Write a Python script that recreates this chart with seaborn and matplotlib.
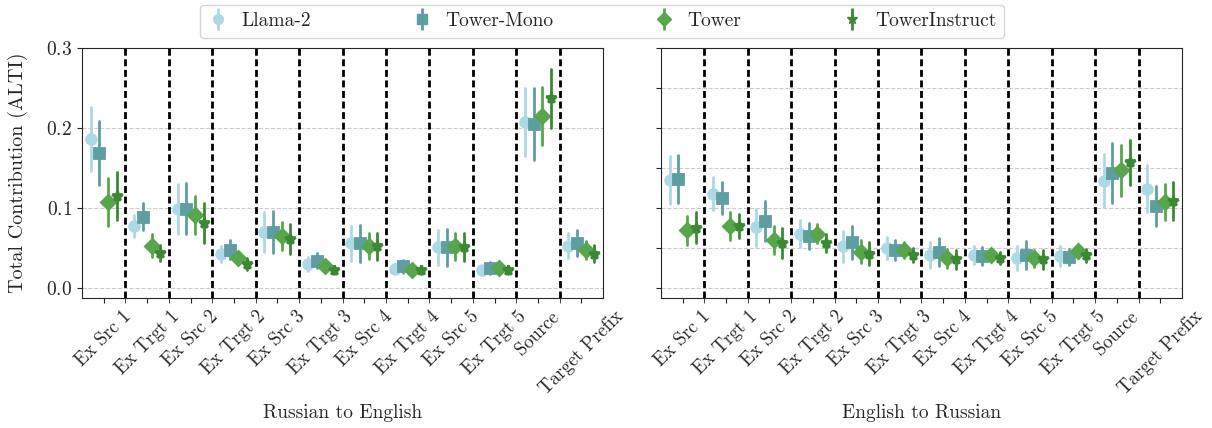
import numpy as np
import pandas as pd
import seaborn as sns
import matplotlib
matplotlib.use('Agg')
from matplotlib import pyplot as plt
from matplotlib.lines import Line2D
from matplotlib.legend_handler import HandlerTuple

sns.set_style('ticks')
plt.rcParams['font.family'] = 'serif'
plt.rcParams['font.serif'] = ['cmr10']
plt.rcParams['mathtext.fontset'] = 'cm'
plt.rcParams['axes.formatter.use_mathtext'] = True
plt.rcParams['font.size'] = 12

categories = ['Ex Src 1', 'Ex Trgt 1', 'Ex Src 2', 'Ex Trgt 2', 'Ex Src 3', 'Ex Trgt 3',
              'Ex Src 4', 'Ex Trgt 4', 'Ex Src 5', 'Ex Trgt 5', 'Source', 'Target Prefix']
models = ['Llama-2', 'Tower-Mono', 'Tower', 'TowerInstruct']
colors = ['#add8e6', '#5f9ea0', '#58a64c', '#3b8a33']
markers = ['o', 's', 'D', '*']

# Russian -> English (mean, half-width of interval)
ru_en_llama = [0.186, 0.0775, 0.099, 0.043, 0.070, 0.030, 0.056, 0.024, 0.051, 0.023, 0.2075, 0.053]
ru_en_llama_err = [0.040, 0.014, 0.031, 0.010, 0.025, 0.009, 0.022, 0.006, 0.022, 0.005, 0.043, 0.016]
ru_en_mono = [0.169, 0.089, 0.099, 0.048, 0.070, 0.034, 0.056, 0.027, 0.051, 0.025, 0.205, 0.056]
ru_en_mono_err = [0.040, 0.017, 0.032, 0.012, 0.026, 0.0095, 0.023, 0.008, 0.023, 0.008, 0.045, 0.016]
ru_en_tower = [0.107, 0.053, 0.091, 0.037, 0.065, 0.027, 0.0525, 0.023, 0.052, 0.025, 0.215, 0.0475]
ru_en_tower_err = [0.030, 0.014, 0.024, 0.0075, 0.018, 0.006, 0.016, 0.005, 0.017, 0.007, 0.036, 0.0115]
ru_en_instruct = [0.115, 0.044, 0.081, 0.030, 0.061, 0.023, 0.052, 0.022, 0.051, 0.0225, 0.237, 0.043]
ru_en_instruct_err = [0.030, 0.010, 0.025, 0.007, 0.019, 0.005, 0.017, 0.0045, 0.0175, 0.0045, 0.037, 0.011]

# English -> Russian
en_ru_llama = [0.135, 0.118, 0.076, 0.068, 0.052, 0.050, 0.041, 0.041, 0.038, 0.040, 0.134, 0.124]
en_ru_llama_err = [0.030, 0.021, 0.023, 0.017, 0.019, 0.014, 0.016, 0.0115, 0.015, 0.012, 0.033, 0.0295]
en_ru_mono = [0.136, 0.112, 0.084, 0.065, 0.057, 0.0475, 0.045, 0.040, 0.041, 0.039, 0.144, 0.102]
en_ru_mono_err = [0.030, 0.020, 0.025, 0.0165, 0.021, 0.013, 0.0175, 0.0115, 0.0175, 0.010, 0.0375, 0.025]
en_ru_tower = [0.072, 0.078, 0.060, 0.068, 0.0454, 0.048, 0.037, 0.041, 0.037, 0.046, 0.147, 0.107]
en_ru_tower_err = [0.018, 0.0175, 0.018, 0.012, 0.014, 0.010, 0.0115, 0.007, 0.011, 0.009, 0.0315, 0.0225]
en_ru_instruct = [0.0755, 0.0775, 0.056, 0.056, 0.043, 0.041, 0.036, 0.037, 0.036, 0.041, 0.157, 0.109]
en_ru_instruct_err = [0.019, 0.015, 0.019, 0.011, 0.0146, 0.009, 0.012, 0.0075, 0.012, 0.008, 0.0285, 0.0235]

panels = [
    ('Russian to English', [(ru_en_llama, ru_en_llama_err), (ru_en_mono, ru_en_mono_err),
                            (ru_en_tower, ru_en_tower_err), (ru_en_instruct, ru_en_instruct_err)]),
    ('English to Russian', [(en_ru_llama, en_ru_llama_err), (en_ru_mono, en_ru_mono_err),
                            (en_ru_tower, en_ru_tower_err), (en_ru_instruct, en_ru_instruct_err)]),
]


def long_table(series):
    # two rows per point (low / high end); mean = centre, min-max = interval
    rows = []
    for model, (mean, err) in zip(models, series):
        for cat, m, e in zip(categories, mean, err):
            rows.append({'segment': cat, 'model': model, 'value': m - e})
            rows.append({'segment': cat, 'model': model, 'value': m + e})
    return pd.DataFrame(rows)


fig, axes = plt.subplots(1, 2, figsize=(12.12, 4.28), dpi=100)
fig.subplots_adjust(left=0.0677, right=0.9752, bottom=0.3037, top=0.8879, wspace=0.111)

for k, (ax, (title, series)) in enumerate(zip(axes, panels)):
    df = long_table(series)
    sns.pointplot(data=df, x='segment', y='value', hue='model', order=categories,
                  hue_order=models, palette=colors, markers=markers, linestyles='none',
                  estimator='mean', errorbar=('pi', 100), dodge=0.6, markersize=7,
                  err_kws={'linewidth': 2}, legend=False, ax=ax)
    for b in np.arange(0.5, len(categories) - 1, 1.0):
        ax.axvline(b, color='k', linestyle='--', linewidth=2, dashes=(2.5, 1.3), zorder=1)
    ax.set_xlim(-0.5, len(categories) - 0.5)
    ax.set_ylim(-0.0125, 0.3)
    ax.set_xticks(range(len(categories)))
    ax.set_xticklabels(categories, rotation=45, ha='center')
    ax.set_xticks(np.arange(0.5, len(categories) - 0.5, 1.0), minor=True)
    ax.tick_params(axis='x', which='minor', length=3.5)
    if k == 0:
        ax.set_yticks([0.0, 0.1, 0.2, 0.3])
        ax.set_ylabel('Total Contribution (ALTI)', fontsize=14.5, labelpad=13)
    else:
        ax.set_yticks(np.arange(0, 0.301, 0.05))
        ax.set_yticklabels([])
        ax.set_ylabel('')
    ax.tick_params(axis='y', labelsize=14)
    ax.tick_params(axis='x', labelsize=13.5)
    ax.yaxis.grid(True, color='#cccccc', linestyle='--', linewidth=0.8)
    ax.set_axisbelow(True)
    ax.set_xlabel(title, fontsize=14, labelpad=4)

handles = []
for c, m in zip(colors, markers):
    bar = Line2D([], [], color=c, marker='|', markersize=16, markeredgewidth=2, linestyle='none')
    pt = Line2D([], [], color=c, marker=m, markersize=7 if m != '*' else 8, linestyle='none')
    handles.append((bar, pt))
fig.legend(handles, models, handler_map={tuple: HandlerTuple(ndivide=1)}, loc='upper center',
           bbox_to_anchor=(0.497, 1.012), ncol=4, fontsize=14, columnspacing=5.2,
           handlelength=1.0, handletextpad=0.7, frameon=True, fancybox=True, borderpad=0.4)

plt.savefig('out.png', dpi=100)
